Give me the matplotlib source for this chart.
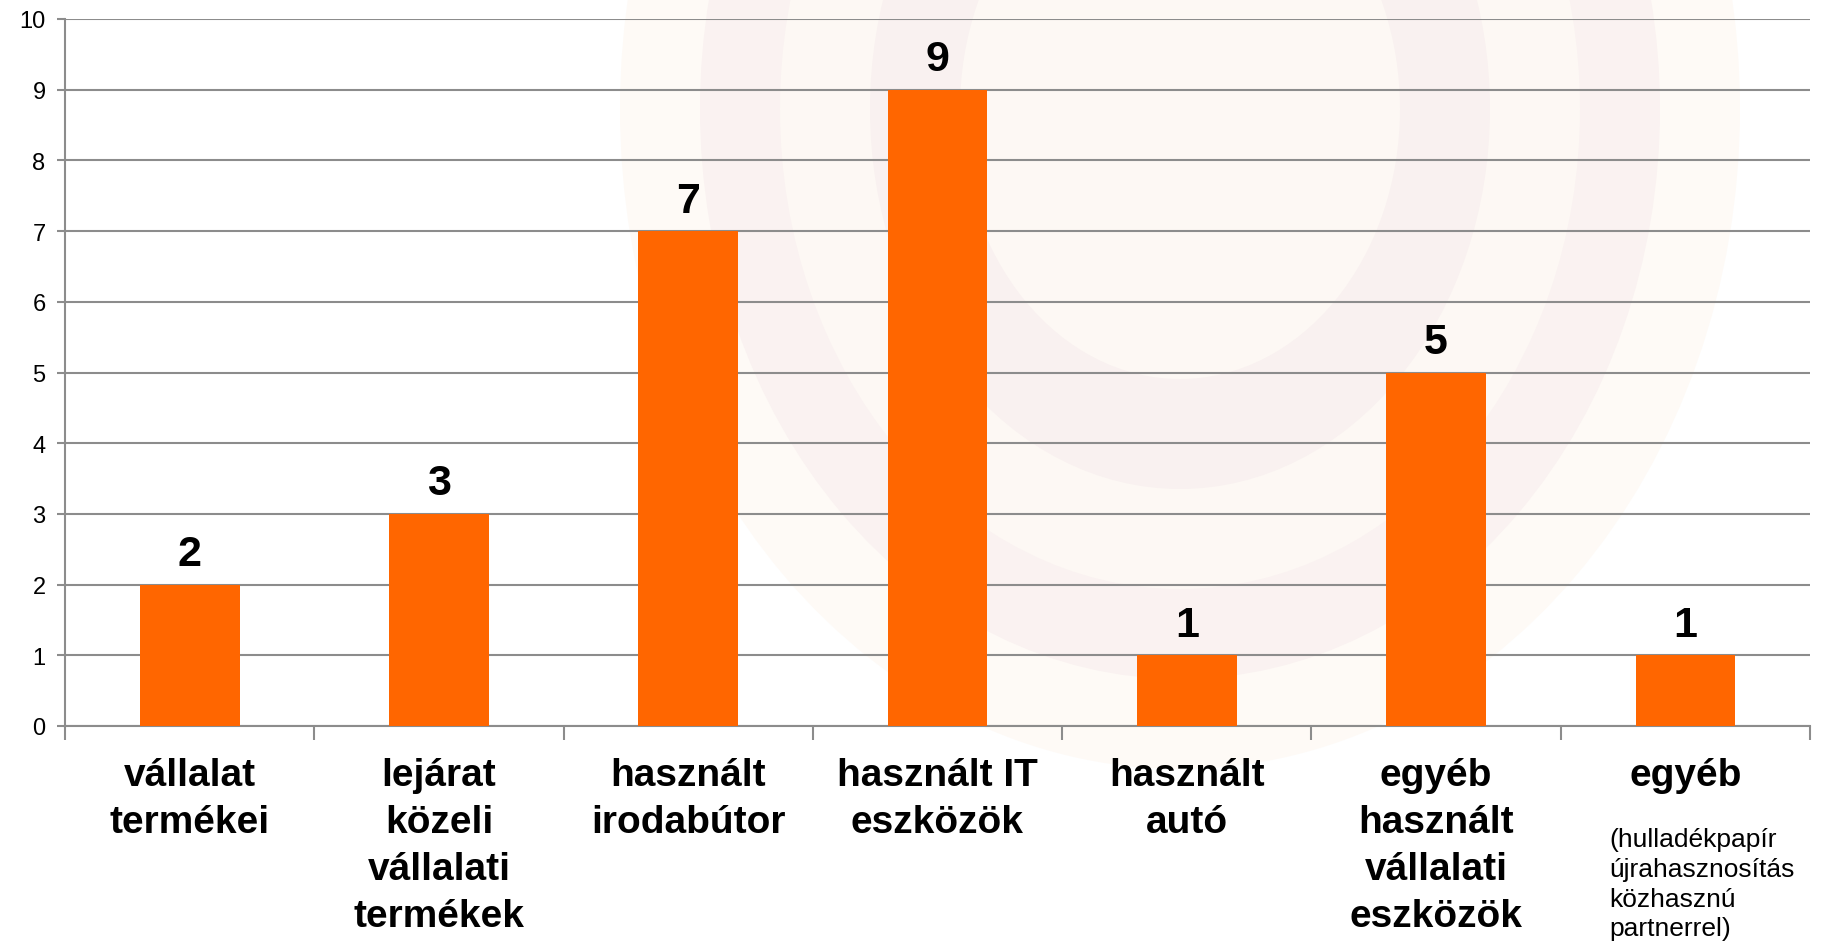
import matplotlib.pyplot as plt
from matplotlib.patches import Ellipse
from matplotlib.transforms import blended_transform_factory

plt.rcParams['font.family'] = ['Liberation Sans', 'DejaVu Sans']

kategoriak = ["vállalat\ntermékei", "lejárat\nközeli\nvállalati\ntermékek", "használt\nirodabútor",
              "használt IT\neszközök", "használt\nautó", "egyéb\nhasznált\nvállalati\neszközök", "egyéb"]
megjegyzes = "(hulladékpapír\nújrahasznosítás\nközhasznú\npartnerrel)"
ertekek = [2, 3, 7, 9, 1, 5, 1]
y_tickek = list(range(0, 11))

narancs = "#ff6600"
szurke = "#8c8c8c"

fig = plt.figure(figsize=(18.26, 9.45), dpi=100)
fig.patch.set_facecolor("white")

# halvany hatterkep (vizjel) kozelitese
hatter = fig.add_axes([0, 0, 1, 1], zorder=-5)
hatter.set_xlim(0, 1826)
hatter.set_ylim(945, 0)
hatter.axis("off")
for rx, ry, szin in [(560, 660, "#fefaf6"), (480, 570, "#faf2f1"), (400, 480, "#fdf8f4"),
                     (310, 380, "#f9f1f0"), (220, 270, "#fdf8f4")]:
    hatter.add_patch(Ellipse((1180, 110), 2 * rx, 2 * ry, color=szin, lw=0))

ax = fig.add_axes([65 / 1826, 1 - 727 / 945, (1810 - 65) / 1826, (727 - 20) / 945])
ax.patch.set_alpha(0)

x = list(range(len(ertekek)))
ax.bar(x, ertekek, width=0.4, color=narancs, zorder=3)

ax.set_xlim(-0.5, len(ertekek) - 0.5)
ax.set_ylim(0, 10)
ax.set_yticks(y_tickek)
ax.yaxis.grid(True, color=szurke, lw=1.5, zorder=0)
ax.set_axisbelow(True)

ax.set_xticks([i - 0.5 for i in range(len(ertekek) + 1)])
ax.set_xticklabels([])
ax.tick_params(axis="x", length=10, width=1.5, color=szurke)
ax.tick_params(axis="y", length=6, width=1.5, color=szurke, labelsize=17, pad=8)

for s in ["top", "right"]:
    ax.spines[s].set_visible(False)
for s in ["left", "bottom"]:
    ax.spines[s].set_color(szurke)
    ax.spines[s].set_linewidth(1.5)

for i, v in enumerate(ertekek):
    ax.annotate(str(v), (i, v), xytext=(0, 14), textcoords="offset points",
                ha="center", va="baseline", fontsize=31, fontweight="bold", zorder=4)

tr = blended_transform_factory(ax.transData, ax.transAxes)
for i, nev in enumerate(kategoriak):
    ax.annotate(nev, (i, 0), xycoords=tr, xytext=(0, -22), textcoords="offset points",
                ha="center", va="top", fontsize=28, fontweight="bold", linespacing=1.4)

ax.annotate(megjegyzes, (len(ertekek) - 1, 0), xycoords=tr, xytext=(-55, -73), textcoords="offset points",
            ha="left", va="top", fontsize=19, linespacing=1.3)

fig.savefig("out.png", dpi=100)
